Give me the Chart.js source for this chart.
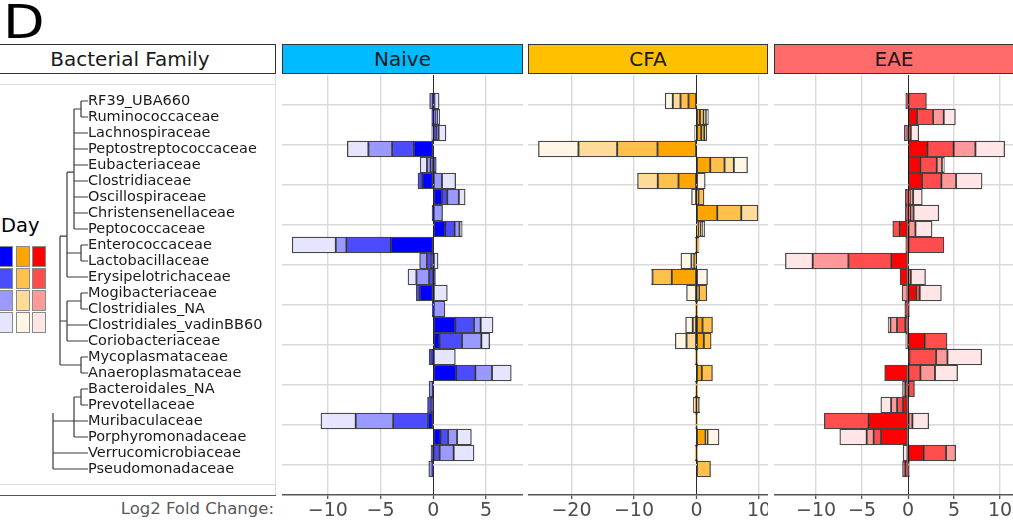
<!DOCTYPE html>
<html>
<head>
<meta charset="utf-8">
<script src="https://cdn.jsdelivr.net/npm/chart.js@4.4.1/dist/chart.umd.min.js"></script>
<style>
  html, body { margin: 0; padding: 0; background: #fff; }
  body { width: 1013px; height: 530px; position: relative; overflow: hidden;
         font-family: 'DejaVu Sans', sans-serif; color: #1a1a1a; }
  .abs { position: absolute; }
  .strip { position: absolute; top: 44px; height: 30px; box-sizing: border-box;
           border: 1px solid #333; font-size: 20px; line-height: 28px; text-align: center; color: #1a1a1a; }
  canvas { position: absolute; }
  .cell { position: absolute; width: 14px; height: 21px; box-sizing: border-box; border: 1px solid #8a8a8a; }
</style>
</head>
<body>
<div class="abs" style="left:3px;top:-2px;font-size:47px;line-height:48px;color:#000;transform:scaleX(1.15);transform-origin:left top;">D</div>

<div class="strip" style="left:-16px;width:292px;background:#fff;">Bacterial Family</div>
<div class="strip" id="s0" style="left:282px;width:241px;">Naive</div>
<div class="strip" id="s1" style="left:528px;width:240px;">CFA</div>
<div class="strip" id="s2" style="left:774px;width:240px;">EAE</div>

<!-- frame of the family panel -->
<div class="abs" style="left:0;top:84px;width:276px;height:1.4px;background:#dcdcdc;"></div>
<div class="abs" style="left:0;top:484px;width:276px;height:1.4px;background:#dcdcdc;"></div>
<div class="abs" style="left:275px;top:75px;width:1.4px;height:420px;background:#dcdcdc;"></div>
<div class="abs" style="left:0;top:494.5px;width:276px;height:1.5px;background:#555;"></div>
<div class="abs" style="right:739px;top:499px;font-size:16.5px;line-height:20px;color:#595959;white-space:nowrap;">Log2 Fold Change:</div>

<div class="abs" style="left:1px;top:214px;font-size:19.5px;line-height:24px;color:#000;">Day</div>
<div id="legend"></div>

<canvas id="tree" width="277" height="420" style="left:0;top:75px;"></canvas>
<canvas id="naive" width="241" height="455" style="left:282px;top:75px;"></canvas>
<canvas id="cfa" width="240" height="455" style="left:528px;top:75px;"></canvas>
<canvas id="eae" width="239" height="455" style="left:774px;top:75px;"></canvas>

<script>
// Bacterial families, top to bottom
const families = [
  'RF39_UBA660', 'Ruminococcaceae', 'Lachnospiraceae', 'Peptostreptococcaceae',
  'Eubacteriaceae', 'Clostridiaceae', 'Oscillospiraceae', 'Christensenellaceae',
  'Peptococcaceae', 'Enterococcaceae', 'Lactobacillaceae', 'Erysipelotrichaceae',
  'Mogibacteriaceae', 'Clostridiales_NA', 'Clostridiales_vadinBB60', 'Coriobacteriaceae',
  'Mycoplasmataceae', 'Anaeroplasmataceae', 'Bacteroidales_NA', 'Prevotellaceae',
  'Muribaculaceae', 'Porphyromonadaceae', 'Verrucomicrobiaceae', 'Pseudomonadaceae'
];
const days = ['Day 1', 'Day 2', 'Day 3', 'Day 4'];

// Log2 fold change per family, one array per group and day
const naiveDay1 = [-0.05,-0.15,0.3,-1.85,0.28,-1.04,0.82,-0.12,1.14,-4.04,-0.2,0.2,-1.3,-0.1,2.09,0.6,-0.1,2.18,-0.05,-0.2,-0.5,0.7,-0.22,-0.08];
const naiveDay2 = [0.1,0.2,0.2,-2.05,-0.25,-0.41,0.5,0,0.88,-4.2,-0.4,-0.4,-0.32,0.05,1.77,2.12,-0.3,1.8,0,-0.35,-3.3,0.7,0.6,0];
const naiveDay3 = [-0.3,0.15,-0.15,-2.25,-0.35,0.82,1.1,0.88,0.47,-1.0,-0.7,-1.2,0,1.05,0.63,1.83,0,1.58,-0.35,0,-3.55,0.85,1.33,-0.35];
const naiveDay4 = [0.45,0.25,0.7,-2.0,-0.65,1.3,0.6,0,0.25,-4.14,0.45,-0.8,1.33,0,1.17,0.79,2.09,1.83,0,0,-3.3,1.36,1.93,0];

const cfaDay1 = [-1.28,0.55,0.75,-6.24,2.19,-2.88,0.3,3.31,0.3,0.2,-0.3,-3.95,0.4,0.2,0.96,1.17,0.2,0.85,0.2,-0.2,0.15,1.45,0.2,0];
const cfaDay2 = [-1.28,0.6,0.5,-6.45,2.29,-3.31,0.9,3.84,0.4,0.2,-0.2,-3.1,1.25,-0.2,1.6,1.17,-0.2,1.7,0,0.3,-0.15,0.3,-0.2,2.24];
const cfaDay3 = [-1.23,0.35,0.4,-6.19,1.49,-3.25,0,2.67,0.3,-0.2,-0.3,-0.15,0,0,-0.6,-1.6,0,0,-0.2,0.2,0,0,0,0];
const cfaDay4 = [-1.23,0.4,-0.3,-6.4,2.19,1.39,-0.8,0,0.3,0,-1.7,1.76,-1.6,0,-1.15,-1.8,0,0,0,-0.3,0,1.85,0,0];

const eaeDay1 = [-0.25,0.98,0.3,2.1,1.34,1.52,-0.3,-0.3,-0.9,-0.25,-1.81,-0.87,0.87,-0.35,-0.3,1.81,0.15,-2.54,-0.3,-0.54,-4.28,-2.93,1.7,-0.3];
const eaeDay2 = [2.0,1.74,0,2.86,1.78,2.1,0.2,0.25,-0.76,3.9,-4.67,0.3,0.4,0.15,-0.9,2.43,2.9,1.34,0.7,-0.65,-4.82,-0.8,2.43,-0.3];
const eaeDay3 = [0,1.16,-0.4,2.36,0.58,1.6,0.35,0.35,0.8,0,-3.88,0,-0.65,0,-0.72,-0.25,1.23,1.59,-0.3,-0.65,0.47,-0.76,1.05,0.15];
const eaeDay4 = [0,1.27,0.87,3.19,0.25,2.83,1.0,2.75,1.81,0,-2.97,1.6,2.36,0,-0.25,0,3.73,2.46,0,-1.12,1.78,-2.93,-0.54,0];

// Day shades per group, darkest first
const blues   = ['#0000FF', '#4C4CFF', '#9999FF', '#E5E5FF'];
const oranges = ['#FFA500', '#FFC04C', '#FFDB99', '#FFF6E5'];
const reds    = ['#FF0000', '#FF4C4C', '#FF9999', '#FFE5E5'];
const stripColors = ['#00BBFF', '#FFC000', '#FF6A6A'];

// Axis ticks per panel
const naiveTicks = [-10, -5, 0, 5];
const cfaTicks = [-20, -10, 0, 10];
const eaeTicks = [-10, -5, 0, 5, 10];

// Dendrogram joins: [depth, fromRow, toRow] verticals and [row, fromDepth, toDepth] horizontals
const treeVertical = [
  [1, 0, 1], [2, 0.5, 8], [1, 9, 10], [3, 4.45, 11], [1, 12, 13], [3, 12.5, 15],
  [1, 16, 17], [4, 8.45, 16.5], [1, 18, 19], [2, 18.5, 21], [5, 19.5, 23]
];
const treeHorizontal = [
  [0, 0, 1], [1, 0, 1], [0.5, 1, 2], [2, 0, 2], [3, 0, 2], [4, 0, 2], [5, 0, 2], [6, 0, 2], [7, 0, 2], [8, 0, 2],
  [9, 0, 1], [10, 0, 1], [4.45, 2, 3], [9.5, 1, 3], [11, 0, 3],
  [12, 0, 1], [13, 0, 1], [12.5, 1, 3], [14, 0, 3], [15, 0, 3],
  [16, 0, 1], [17, 0, 1], [8.45, 3, 4], [13.75, 3, 4], [16.5, 1, 4],
  [18, 0, 1], [19, 0, 1], [18.5, 1, 2], [20, 0, 2], [21, 0, 2],
  [20, 2, 5], [22, 0, 5], [23, 0, 5]
];

const nRows = families.length;
const rowPos = i => (nRows - i);          // first family at the top
const Y_MIN = -0.625, Y_MAX = nRows + 1.625;
const gridRows = [];
for (let v = 0; v <= 25; v += 2.5) gridRows.push(v);

Chart.defaults.font.family = "'DejaVu Sans', sans-serif";
Chart.defaults.animation = false;

// Day legend
(function () {
  const legend = document.getElementById('legend');
  const cols = [[blues, -1], [oranges, 16], [reds, 32]];
  cols.forEach(([shades, left]) => {
    shades.forEach((c, r) => {
      const d = document.createElement('div');
      d.className = 'cell';
      d.style.left = left + 'px';
      d.style.top = (246 + r * 22) + 'px';
      d.style.background = c;
      legend.appendChild(d);
    });
  });
  ['s0', 's1', 's2'].forEach((id, k) => { document.getElementById(id).style.background = stripColors[k]; });
})();

// Dendrogram and family names
(function () {
  const pts = [];
  treeVertical.forEach(([d, r1, r2]) => {
    pts.push({x: d, y: rowPos(r1)}, {x: d, y: rowPos(r2)}, {x: d, y: null});
  });
  treeHorizontal.forEach(([r, d1, d2]) => {
    pts.push({x: d1, y: rowPos(r)}, {x: d2, y: rowPos(r)}, {x: d2, y: null});
  });
  new Chart(document.getElementById('tree'), {
    type: 'scatter',
    data: { datasets: [{
      data: pts, showLine: true, spanGaps: false, pointRadius: 0,
      borderColor: '#3a3a3a', borderWidth: 1.2
    }]},
    options: {
      responsive: false, devicePixelRatio: 1,
      layout: { padding: 0 },
      plugins: { legend: { display: false }, tooltip: { enabled: false } },
      scales: {
        x: { type: 'linear', display: false, reverse: true, min: 0, max: 88 / 7 },
        y: {
          type: 'linear', position: 'right', min: Y_MIN, max: Y_MAX,
          grid: { display: false, drawTicks: false }, border: { display: false },
          afterBuildTicks: s => { s.ticks = families.map((f, i) => ({ value: rowPos(i) })); },
          afterFit: s => { s.width = 189; s.paddingTop = 0; s.paddingBottom = 0; },
          ticks: {
            autoSkip: false, padding: 0, color: '#1a1a1a', font: { size: 14.5 },
            callback: (v, idx) => families[idx]
          }
        }
      }
    }
  });
})();

function minusLabel(v) { return v < 0 ? '\u2212' + Math.abs(v) : String(v); }

function makePanel(id, series, shades, xMin, xMax, ticks) {
  const datasets = series.map((vals, k) => ({
    label: days[k],
    data: vals.map((v, i) => ({ x: v === 0 ? null : v, y: rowPos(i) })),
    backgroundColor: shades[k],
    borderColor: 'rgba(0,0,0,0.72)',
    borderWidth: 1.3,
    borderSkipped: false,
    barThickness: 16
  }));
  new Chart(document.getElementById(id), {
    type: 'bar',
    data: { datasets },
    options: {
      indexAxis: 'y',
      responsive: false, devicePixelRatio: 1,
      layout: { padding: 0 },
      plugins: { legend: { display: false }, tooltip: { enabled: false } },
      scales: {
        x: {
          type: 'linear', stacked: true, min: xMin, max: xMax,
          afterBuildTicks: s => { s.ticks = ticks.map(v => ({ value: v })); },
          afterFit: s => { s.height = 35; s.paddingLeft = 0; s.paddingRight = 0; },
          border: { color: '#555', width: 1.5 },
          grid: {
            color: c => (c.tick && c.tick.value === 0) ? '#2b2b2b' : '#d9d9d9',
            lineWidth: c => (c.tick && c.tick.value === 0) ? 1 : 1.4,
            tickColor: '#555', tickLength: 4, tickWidth: 1.3
          },
          ticks: { autoSkip: false, maxRotation: 0, padding: 1, color: '#4d4d4d',
                   font: { size: 19 }, callback: v => minusLabel(v) }
        },
        y: {
          type: 'linear', stacked: true, offset: false, min: Y_MIN, max: Y_MAX,
          afterBuildTicks: s => { s.ticks = gridRows.map(v => ({ value: v })); },
          afterFit: s => { s.width = 0; s.paddingTop = 0; s.paddingBottom = 0; },
          border: { display: false },
          grid: { color: '#d9d9d9', lineWidth: 1.4, drawTicks: false },
          ticks: { display: false }
        }
      }
    }
  });
}

makePanel('naive', [naiveDay1, naiveDay2, naiveDay3, naiveDay4], blues, -14.34, 8.5, naiveTicks);
makePanel('cfa', [cfaDay1, cfaDay2, cfaDay3, cfaDay4], oranges, -26.95, 11.43, cfaTicks);
makePanel('eae', [eaeDay1, eaeDay2, eaeDay3, eaeDay4], reds, -14.57, 11.41, eaeTicks);
</script>
</body>
</html>
